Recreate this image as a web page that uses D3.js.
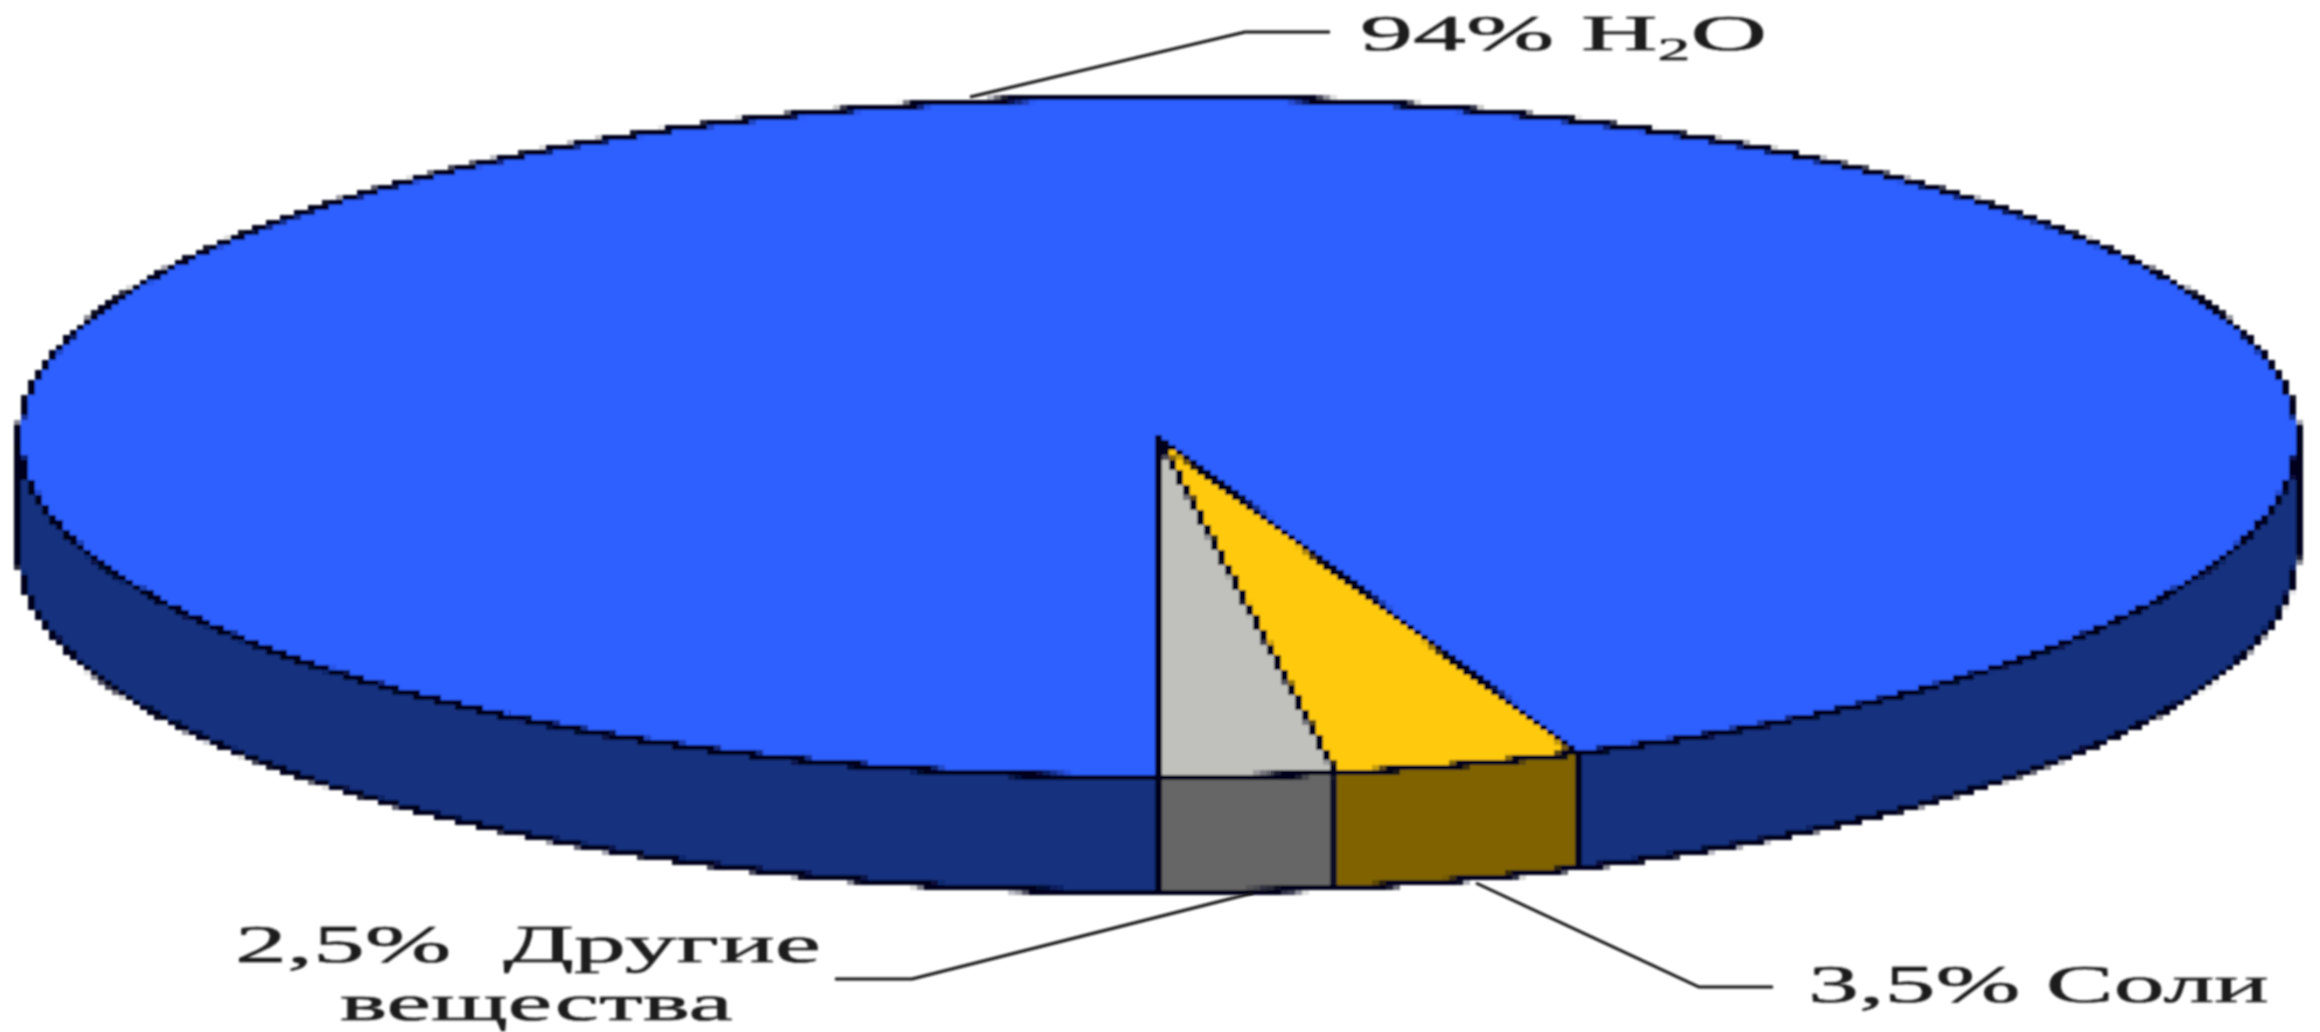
<!DOCTYPE html>
<html>
<head>
<meta charset="utf-8">
<script src="https://cdnjs.cloudflare.com/ajax/libs/d3/7.8.5/d3.min.js"></script>
<style>
html, body { margin: 0; padding: 0; background: #fff; overflow: hidden; }
text { font-family: "Liberation Serif", serif; fill: #1a1a1a; stroke: #1a1a1a; stroke-width: 0.5; }
</style>
</head>
<body>
<div id="chart"></div>
<script>
// values, clockwise starting from the gold slice
const names = ["Соли", "Другие вещества", "H2O"];
const shares = [3.5, 2.5, 94];
const topColors = ["#ffc90a", "#c0c0bc", "#2e5fff"];
const sideColors = ["#806400", "#666666", "#14307f"];

const width = 2320, height = 1032;
const cx = 1158, cy = 437, rx = 1139, ry = 340, depth = 115;
const lineColor = "#00001a";

const svg = d3.select("#chart").append("svg")
    .attr("width", width)
    .attr("height", height);

const defs = svg.append("defs");

defs.append("filter")
    .attr("id", "soft")
    .append("feGaussianBlur")
    .attr("stdDeviation", 0.9);

// the reference is an enlarged small picture, so sample the pie into 7x5 blocks
const blocks = defs.append("filter")
    .attr("id", "blocks")
    .attr("filterUnits", "userSpaceOnUse")
    .attr("x", 0).attr("y", 0)
    .attr("width", width).attr("height", height);
blocks.append("feFlood")
    .attr("x", 3).attr("y", 2)
    .attr("width", 1).attr("height", 1);
blocks.append("feComposite")
    .attr("x", 0).attr("y", 0)
    .attr("width", 7).attr("height", 5);
blocks.append("feTile").attr("result", "grid");
blocks.append("feComposite")
    .attr("in", "SourceGraphic")
    .attr("in2", "grid")
    .attr("operator", "in");
blocks.append("feMorphology")
    .attr("operator", "dilate")
    .attr("radius", "3 2");
blocks.append("feGaussianBlur")
    .attr("stdDeviation", 0.8);

const pieGroup = svg.append("g").attr("filter", "url(#blocks)");
const notes = svg.append("g").attr("filter", "url(#soft)");

// the gold slice ends up left of the 6 o'clock point together with the grey one
const offset = d3.sum(shares.slice(0, 2)) / d3.sum(shares) * 2 * Math.PI;
const pie = d3.pie().sort(null).startAngle(Math.PI - offset).endAngle(3 * Math.PI - offset);
const slices = pie(shares);

const xAt = a => cx + rx * Math.sin(a);
const yAt = a => cy - ry * Math.cos(a);

const sideArea = d3.area()
    .x(xAt)
    .y0(yAt)
    .y1(a => yAt(a) + depth);

// only the front half of the wall can be seen
const frontWindows = [[Math.PI / 2, 3 * Math.PI / 2], [5 * Math.PI / 2, 7 * Math.PI / 2]];

const side = pieGroup.append("g");
slices.forEach((d, i) => {
    frontWindows.forEach(w => {
        const a0 = Math.max(d.startAngle, w[0]);
        const a1 = Math.min(d.endAngle, w[1]);
        if (a1 <= a0) return;
        const angles = d3.range(a0, a1, 0.005).concat([a1]);
        side.append("path")
            .attr("d", sideArea(angles))
            .attr("fill", sideColors[i])
            .attr("stroke", lineColor)
            .attr("stroke-width", 6)
            .attr("stroke-linejoin", "round");
    });
});

const arc = d3.arc().innerRadius(0).outerRadius(1);

pieGroup.append("g")
    .attr("transform", `translate(${cx},${cy}) scale(${rx},${ry})`)
    .selectAll("path")
    .data(slices)
    .join("path")
    .attr("d", arc)
    .attr("fill", (d, i) => topColors[i])
    .attr("stroke", lineColor)
    .attr("stroke-width", 6)
    .attr("stroke-linejoin", "round")
    .attr("vector-effect", "non-scaling-stroke");

// leader lines
const leaders = [
    [[970, 97], [1245, 32], [1330, 32]],
    [[1253, 893], [912, 979], [835, 979]],
    [[1476, 883], [1699, 987], [1773, 987]]
];
const leaderLine = d3.line();

notes.selectAll("path")
    .data(leaders)
    .join("path")
    .attr("d", leaderLine)
    .attr("fill", "none")
    .attr("stroke", "#111")
    .attr("stroke-width", 3);

// label text is stretched sideways to fit its width in the picture
function addLabel(parts, x, baseline, targetWidth, size) {
    const t = notes.append("text")
        .attr("font-size", size)
        .attr("xml:space", "preserve");
    parts.forEach(p => {
        const s = t.append("tspan").text(p.text);
        if (p.sub) s.attr("font-size", size * 0.62).attr("dy", size * 0.2);
        if (p.up) s.attr("dy", -size * 0.2);
    });
    const w = t.node().getComputedTextLength();
    t.attr("transform", `translate(${x},${baseline}) scale(${targetWidth / w},1)`);
}

addLabel([{ text: "94% H" }, { text: "2", sub: true }, { text: "O", up: true }], 1360, 50, 407, 50);
addLabel([{ text: "2,5%  Другие" }], 235, 962, 586, 52);
addLabel([{ text: "вещества" }], 340, 1020, 393, 50);
addLabel([{ text: "3,5% Соли" }], 1808, 1002, 461, 52);
</script>
</body>
</html>
